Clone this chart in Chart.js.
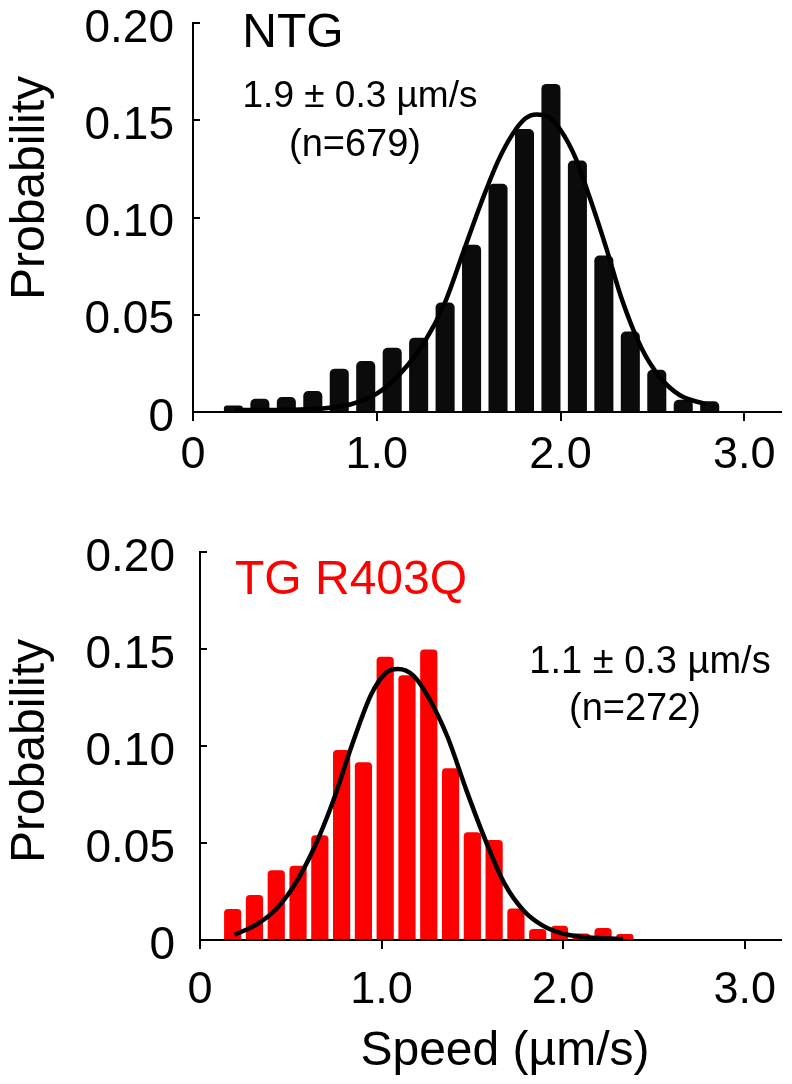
<!DOCTYPE html>
<html><head><meta charset="utf-8">
<script src="https://cdn.jsdelivr.net/npm/chart.js@4.4.1/dist/chart.umd.min.js"></script>
<style>html,body{margin:0;padding:0;background:#fff;width:792px;height:1084px;overflow:hidden}canvas{position:absolute;left:0}</style>
</head><body>
<canvas id="topChart" width="792" height="500" style="top:0"></canvas>
<canvas id="botChart" width="792" height="584" style="top:500px"></canvas>
<script>
// ---- data ----
const ntgBinCenters = [0.22,0.364,0.508,0.652,0.796,0.94,1.084,1.228,1.372,1.516,1.66,1.804,1.948,2.092,2.236,2.38,2.524,2.668,2.812];
const ntgProbability = [0.0034,0.0068,0.0077,0.0108,0.0223,0.0262,0.0330,0.0382,0.0563,0.0860,0.1173,0.1455,0.1687,0.1293,0.0805,0.0414,0.0217,0.0063,0.0055];
const ntgFitX = [0.23,0.40,0.55,0.70,0.86,1.00,1.13,1.26,1.37,1.47,1.57,1.66,1.74,1.81,1.87,1.93,2.00,2.08,2.16,2.25,2.33,2.44,2.54,2.65,2.79];
const ntgFitY = [0.0010,0.0010,0.0012,0.0018,0.0040,0.0094,0.0200,0.0360,0.0560,0.0820,0.1080,0.1290,0.1430,0.1510,0.1530,0.1520,0.1450,0.1310,0.1100,0.0840,0.0590,0.0330,0.0180,0.0086,0.0040];

const tgBinCenters = [0.18,0.30,0.42,0.54,0.66,0.78,0.90,1.02,1.14,1.26,1.38,1.50,1.62,1.74,1.86,1.98,2.10,2.22,2.34];
const tgProbability = [0.0160,0.0232,0.0360,0.0383,0.0540,0.0980,0.0916,0.1460,0.1365,0.1497,0.0885,0.0555,0.0515,0.0163,0.0057,0.0074,0.0034,0.0062,0.0031];
const tgFitX = [0.19,0.315,0.42,0.524,0.63,0.734,0.839,0.944,1.028,1.09,1.175,1.259,1.364,1.468,1.573,1.678,1.783,1.888,1.993,2.10,2.20,2.33];
const tgFitY = [0.0027,0.0082,0.0160,0.0289,0.0478,0.0718,0.1010,0.1268,0.1380,0.1397,0.1363,0.1250,0.1045,0.0770,0.0512,0.0289,0.0151,0.0074,0.0034,0.0017,0.0010,0.0005];

const xTickValues = [0,1,2,3];
const xTickLabels = ['0','1.0','2.0','3.0'];
const yTickValues = [0,0.05,0.10,0.15,0.20];
const yTickLabels = ['0','0.05','0.10','0.15','0.20'];

const FONT = '"Liberation Sans", Arial, Helvetica, sans-serif';

const tickPlugin = {
  id: 'axisTicks',
  afterDatasetsDraw(chart) {
    const {ctx, chartArea: a} = chart;
    const x = chart.scales.x, y = chart.scales.y;
    ctx.save();
    ctx.strokeStyle = '#000';
    ctx.lineWidth = 2;
    y.ticks.forEach(t => {
      const py = Math.round(y.getPixelForValue(t.value));
      ctx.beginPath(); ctx.moveTo(a.left, py); ctx.lineTo(a.left + 7, py); ctx.stroke();
    });
    x.ticks.forEach(t => {
      const px = Math.round(x.getPixelForValue(t.value));
      ctx.beginPath(); ctx.moveTo(px, a.bottom); ctx.lineTo(px, a.bottom + 9); ctx.stroke();
    });
    ctx.restore();
  }
};

const textPlugin = {
  id: 'annot',
  afterDraw(chart, args, opts) {
    const ctx = chart.ctx;
    (opts.items || []).forEach(it => {
      ctx.save();
      ctx.font = it.size + 'px ' + FONT;
      ctx.fillStyle = it.color || '#000';
      ctx.textAlign = it.align || 'center';
      ctx.textBaseline = 'alphabetic';
      ctx.translate(it.x, it.y);
      if (it.rotate) ctx.rotate(it.rotate);
      ctx.fillText(it.text, 0, 0);
      ctx.restore();
    });
  }
};

function zeroPad(s) { s.paddingLeft = 0; s.paddingRight = 0; s.paddingTop = 0; s.paddingBottom = 0; }

function makeChart(id, cfg) {
  const canvas = document.getElementById(id);
  const H = canvas.height, W = canvas.width;
  const area = cfg.area;
  return new Chart(canvas, {
    type: 'bar',
    data: {
      datasets: [
        {
          type: 'line',
          data: cfg.fitX.map((v, i) => ({x: v, y: cfg.fitY[i]})),
          borderColor: '#000',
          borderWidth: 4.5,
          pointRadius: 0,
          fill: false,
          cubicInterpolationMode: 'monotone',
          order: 1
        },
        {
          type: 'bar',
          data: cfg.centers.map((v, i) => ({x: v, y: cfg.probs[i]})),
          backgroundColor: cfg.barColor,
          borderWidth: 0,
          borderRadius: {topLeft: cfg.radius, topRight: cfg.radius, bottomLeft: 0, bottomRight: 0},
          borderSkipped: 'bottom',
          barPercentage: cfg.barPct,
          categoryPercentage: 1,
          order: 2
        }
      ]
    },
    options: {
      responsive: false,
      animation: false,
      devicePixelRatio: 1,
      layout: {padding: {top: area.top, right: W - area.right, left: 0, bottom: 0}},
      plugins: {legend: {display: false}, tooltip: {enabled: false}, title: {display: false}, annot: {items: cfg.texts}},
      scales: {
        x: {
          type: 'linear', min: 0, max: 3.2, offset: false,
          afterBuildTicks: s => { s.ticks = xTickValues.map(v => ({value: v})); },
          afterFit: s => { s.height = H - area.bottom; zeroPad(s); },
          grid: {display: true, drawOnChartArea: false, drawTicks: false, offset: false},
          border: {display: true, color: '#000', width: 2},
          ticks: {padding: cfg.xPad, maxRotation: 0, autoSkip: false, color: '#000',
                  font: {family: FONT, size: 45, lineHeight: 1},
                  callback: (v, i) => xTickLabels[i]}
        },
        y: {
          type: 'linear', min: 0, max: 0.2,
          afterBuildTicks: s => { s.ticks = yTickValues.map(v => ({value: v})); },
          afterFit: s => { s.width = area.left; zeroPad(s); },
          grid: {display: true, drawOnChartArea: false, drawTicks: false},
          border: {display: true, color: '#000', width: 2},
          ticks: {padding: cfg.yPad, labelOffset: 6, color: '#000',
                  font: {family: FONT, size: 46, lineHeight: 0.9},
                  callback: (v, i) => yTickLabels[i]}
        }
      }
    },
    plugins: [tickPlugin, textPlugin]
  });
}

makeChart('topChart', {
  centers: ntgBinCenters, probs: ntgProbability, fitX: ntgFitX, fitY: ntgFitY,
  barColor: '#0b0b0b', barPct: 0.72, radius: 5,
  area: {left: 193, right: 781, top: 23, bottom: 412},
  yPad: 19, xPad: 21,
  texts: [
    {text: 'NTG', x: 293, y: 47, size: 48},
    {text: '1.9 \u00b1 0.3 \u00b5m/s', x: 360, y: 107, size: 37},
    {text: '(n=679)', x: 355, y: 156, size: 38},
    {text: 'Probability', x: 44, y: 188, size: 48, rotate: -Math.PI / 2}
  ]
});

makeChart('botChart', {
  centers: tgBinCenters, probs: tgProbability, fitX: tgFitX, fitY: tgFitY,
  barColor: '#ff0000', barPct: 0.79, radius: 4,
  area: {left: 200, right: 781, top: 52, bottom: 440},
  yPad: 25, xPad: 28,
  texts: [
    {text: 'TG R403Q', x: 235, y: 94, size: 48, color: '#ff0000', align: 'left'},
    {text: '1.1 \u00b1 0.3 \u00b5m/s', x: 650, y: 173, size: 38},
    {text: '(n=272)', x: 635, y: 220, size: 38},
    {text: 'Probability', x: 44, y: 251, size: 48, rotate: -Math.PI / 2},
    {text: 'Speed (\u00b5m/s)', x: 505, y: 565, size: 48}
  ]
});
</script>
</body></html>
